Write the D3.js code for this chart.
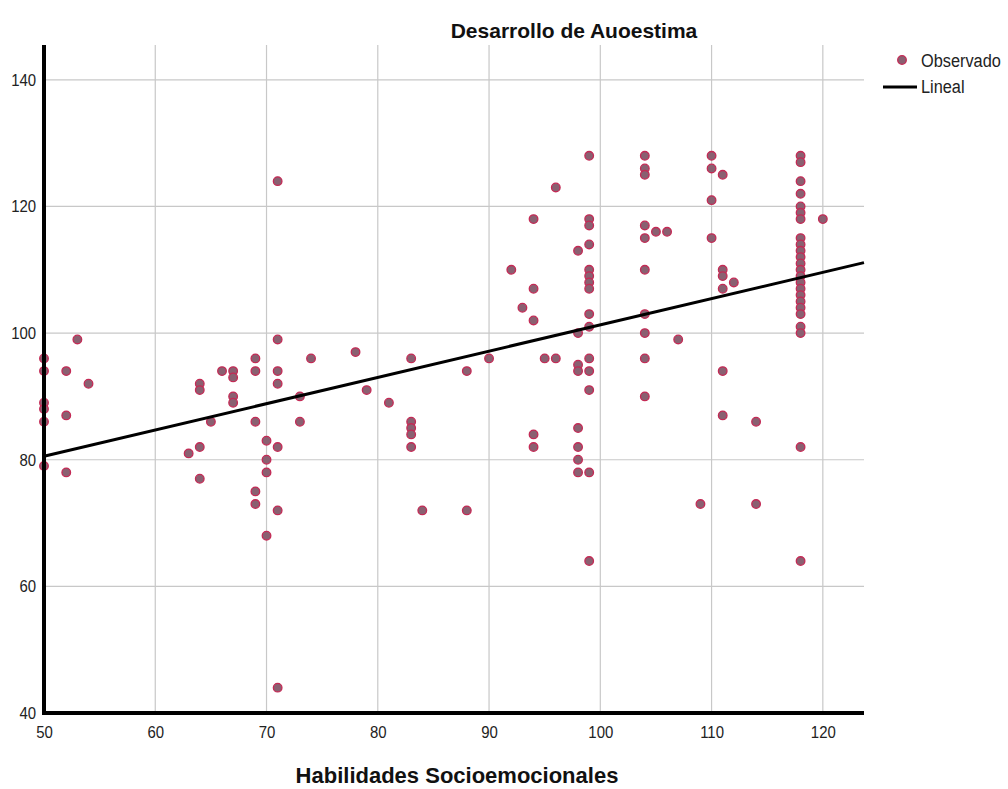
<!DOCTYPE html>
<html><head><meta charset="utf-8">
<script src="https://cdn.jsdelivr.net/npm/d3@7"></script>
<style>
body{margin:0;background:#fff;}
svg{display:block;}
</style></head>
<body><svg id="c" width="1008" height="789"></svg>
<script>
// Data: Habilidades Socioemocionales (x) vs Desarrollo de Autoestima (y)
const xValues = [50,50,50,50,50,50,52,52,52,53,54,63,64,64,64,64,65,66,67,67,67,67,69,69,69,69,69,70,70,70,70,71,71,71,71,71,71,71,73,73,74,78,79,81,83,83,83,83,83,84,88,88,90,92,93,94,94,94,94,94,95,96,96,98,98,98,98,98,98,98,98,99,99,99,99,99,99,99,99,99,99,99,99,99,99,99,104,104,104,104,104,104,104,104,104,104,105,106,107,109,110,110,110,110,111,111,111,111,111,111,112,114,114,118,118,118,118,118,118,118,118,118,118,118,118,118,118,118,118,118,118,118,118,118,118,118,118,120];
const yValues = [96,94,89,88,86,79,94,87,78,99,92,81,92,91,82,77,86,94,94,93,90,89,96,94,86,75,73,83,80,78,68,124,99,94,92,82,72,44,90,86,96,97,91,89,96,86,85,84,82,72,94,72,96,110,104,118,107,102,84,82,96,123,96,113,100,95,94,85,82,80,78,128,118,117,114,110,109,108,107,103,101,96,94,91,78,64,128,126,125,117,115,110,103,100,96,90,116,116,99,73,128,126,121,115,125,110,109,107,94,87,108,86,73,128,127,124,122,120,119,118,115,114,113,112,111,110,109,108,107,106,105,104,103,101,100,82,64,118];
const xTicks = [50,60,70,80,90,100,110,120];
const yTicks = [40,60,80,100,120,140];
const fitIntercept = 59.8;
const fitSlope = 0.415;
const titleText = "Desarrollo de Auoestima";
const xLabel = "Habilidades Socioemocionales";
const legendLabels = ["Observado","Lineal"];

const svg = d3.select("#c");
const pL = 44, pR = 864, pT = 45, pB = 713;
const x = d3.scaleLinear().domain([50, 123.7]).range([pL, pR]);
const y = d3.scaleLinear().domain([40, 145.5]).range([pB, pT]);
const font = "'Liberation Sans',Arial,sans-serif";
const ptFill = "#8a6071", ptStroke = "#c42a55";

// gridlines
const g = svg.append("g");
g.selectAll("line.vx").data(xTicks.filter(d=>d>50)).enter().append("line")
  .attr("x1",d=>x(d)).attr("x2",d=>x(d)).attr("y1",pT).attr("y2",pB)
  .attr("stroke","#c8c8c8").attr("stroke-width",1.2);
g.selectAll("line.hy").data(yTicks.filter(d=>d>40)).enter().append("line")
  .attr("x1",pL).attr("x2",pR).attr("y1",d=>y(d)).attr("y2",d=>y(d))
  .attr("stroke","#c8c8c8").attr("stroke-width",1.2);

// axes
const xAxis = d3.axisBottom(x).tickValues(xTicks).tickSize(0).tickPadding(13);
const yAxis = d3.axisLeft(y).tickValues(yTicks).tickSize(0).tickPadding(9);
const gx = svg.append("g").attr("transform",`translate(0,${pB})`).call(xAxis);
const gy = svg.append("g").attr("transform",`translate(${pL},0)`).call(yAxis);
[gx,gy].forEach(a=>{a.select(".domain").remove();
  a.selectAll("text").attr("font-size",17).attr("fill","#222")
   .style("font-family",font).attr("transform","scale(0.88,1)");});

// points
const pts = xValues.map((v,i)=>({x:v,y:yValues[i]}));
svg.append("g").selectAll("circle").data(pts).enter().append("circle")
  .attr("cx",d=>x(d.x)).attr("cy",d=>y(d.y)).attr("r",4.3)
  .attr("fill",ptFill).attr("stroke",ptStroke).attr("stroke-width",1.3);

// fit line
const xd = x.domain();
svg.append("line")
  .attr("x1",x(xd[0])).attr("y1",y(fitIntercept+fitSlope*xd[0]))
  .attr("x2",x(xd[1])).attr("y2",y(fitIntercept+fitSlope*xd[1]))
  .attr("stroke","#000").attr("stroke-width",3);

// axis lines (thick)
svg.append("line").attr("x1",pL).attr("x2",pL).attr("y1",pT).attr("y2",pB+2)
  .attr("stroke","#000").attr("stroke-width",4);
svg.append("line").attr("x1",pL-2).attr("x2",pR).attr("y1",pB).attr("y2",pB)
  .attr("stroke","#000").attr("stroke-width",4);

// titles
svg.append("text").attr("x",574).attr("y",38).attr("text-anchor","middle")
  .attr("font-family",font).attr("font-size",21)
  .attr("font-weight","bold").attr("fill","#111").text(titleText);
svg.append("text").attr("x",457).attr("y",783).attr("text-anchor","middle")
  .attr("font-family",font).attr("font-size",22)
  .attr("font-weight","bold").attr("fill","#111").text(xLabel);

// legend
const lg = svg.append("g");
lg.append("circle").attr("cx",902).attr("cy",60).attr("r",4.3)
  .attr("fill",ptFill).attr("stroke",ptStroke).attr("stroke-width",1.3);
lg.append("text").attr("transform","translate(921,67) scale(0.86,1)")
  .attr("font-size",19).attr("font-family",font).attr("fill","#222").text(legendLabels[0]);
lg.append("line").attr("x1",883).attr("x2",917).attr("y1",87).attr("y2",87)
  .attr("stroke","#000").attr("stroke-width",3);
lg.append("text").attr("transform","translate(921,93) scale(0.86,1)")
  .attr("font-size",19).attr("font-family",font).attr("fill","#222").text(legendLabels[1]);
</script></body></html>
